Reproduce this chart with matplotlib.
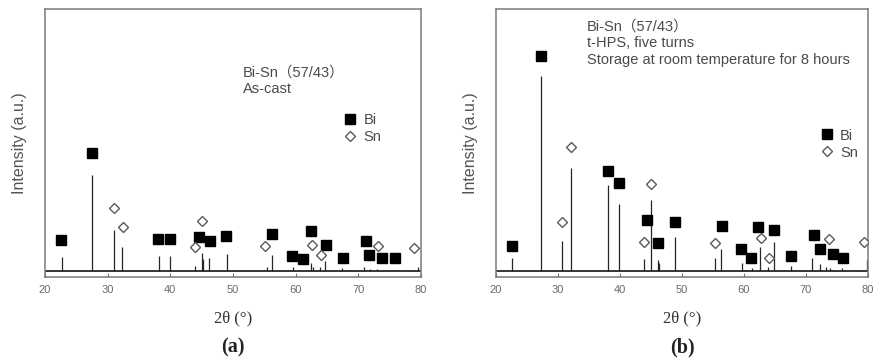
import matplotlib
matplotlib.use("Agg")
import matplotlib.pyplot as plt
from matplotlib.lines import Line2D

# ---- data (2theta in degrees, intensity in arbitrary units) ----
# (a) as-cast
a_peak_pos = [22.7, 27.5, 30.95, 32.3, 38.2, 40.0, 44.0, 45.0, 45.2, 46.2, 49.0,
              55.4, 56.3, 59.5, 62.4, 62.8, 63.9, 64.7, 67.4, 70.9, 71.9, 72.9, 79.6]
a_peak_int = [14, 96, 41, 24, 15, 15, 5, 18, 12, 13, 17,
              4, 16, 4, 8, 4, 4, 10, 3, 4, 2, 2, 4]
a_bi_pos = [22.6, 27.5, 38.1, 40.0, 44.6, 46.3, 48.9, 56.3, 59.4, 61.1, 62.4,
            64.9, 67.5, 71.2, 71.7, 73.8, 75.8]
a_bi_int = [31, 118, 32, 32, 34, 30, 35, 37, 15, 12, 40,
            26, 13, 30, 16, 13, 13]
a_sn_pos = [30.95, 32.4, 43.9, 45.1, 55.1, 62.6, 64.0, 73.1, 78.9]
a_sn_int = [63, 44, 24, 50, 25, 26, 16, 25, 23]

# (b) t-HPS, five turns, 8 h at room temperature
b_peak_pos = [22.5, 27.2, 30.6, 32.1, 38.05, 39.8, 43.9, 45.0, 46.1, 46.3, 48.9,
              55.3, 56.3, 59.6, 61.3, 62.5, 63.9, 64.8, 67.6, 71.0, 72.3, 73.2,
              73.9, 75.8, 79.8]
b_peak_int = [13, 195, 30, 103, 86, 67, 12, 71, 11, 8, 34,
              13, 22, 8, 3, 24, 4, 29, 5, 13, 7, 4,
              3, 3, 11]
b_bi_pos = [22.5, 27.3, 38.1, 39.8, 44.4, 46.2, 48.9, 56.4, 59.5, 61.2, 62.3,
            64.8, 67.6, 71.3, 72.3, 74.4, 75.9]
b_bi_int = [25, 215, 100, 88, 51, 28, 49, 45, 22, 13, 44,
            41, 15, 36, 22, 17, 13]
b_sn_pos = [30.6, 32.1, 43.8, 45.0, 55.4, 62.7, 64.0, 73.7, 79.4]
b_sn_int = [49, 124, 29, 87, 28, 33, 13, 32, 29]

x_ticks = [20, 30, 40, 50, 60, 70, 80]

TEXT_FONT = ["Liberation Sans", "Noto Sans CJK SC", "DejaVu Sans"]
SERIF = ["Liberation Serif", "DejaVu Serif"]
FRAME = "#7a7a7a"
TEXT_C = "#4a4a4a"
LINE_C = "#262626"


def draw_panel(ax, peak_pos, peak_int, bi_pos, bi_int, sn_pos, sn_int,
               lines, text_xy, leg_xy, tag):
    ax.set_xlim(20, 80)
    ax.set_ylim(-6, 262)
    ax.axhline(0, color=LINE_C, lw=1.3, zorder=1)
    ax.vlines(peak_pos, 0, peak_int, color=LINE_C, lw=0.9, zorder=1)

    ax.plot(bi_pos, bi_int, ls="none", marker="s", ms=7.2,
            mfc="black", mec="black", zorder=3)
    ax.plot(sn_pos, sn_int, ls="none", marker="D", ms=5.6,
            mfc="white", mec="#5a5a5a", mew=1.0, zorder=3)

    handles = [
        Line2D([0], [0], ls="none", marker="s", ms=6.5, mfc="black", mec="black"),
        Line2D([0], [0], ls="none", marker="D", ms=5.0, mfc="white",
               mec="#5a5a5a", mew=1.0),
    ]
    leg = ax.legend(handles, ["Bi", "Sn"], loc="upper left",
                    bbox_to_anchor=leg_xy, frameon=False, borderpad=0,
                    handlelength=1.0, handletextpad=0.4, labelspacing=0.2,
                    prop={"family": TEXT_FONT, "size": 10.5})
    for t in leg.get_texts():
        t.set_color(TEXT_C)

    ax.text(text_xy[0], text_xy[1], "\n".join(lines), transform=ax.transAxes,
            ha="left", va="top", family=TEXT_FONT, fontsize=10.5,
            color=TEXT_C, linespacing=1.25)

    ax.set_xticks(x_ticks)
    ax.set_xticklabels([str(t) for t in x_ticks])
    ax.set_yticks([])
    ax.tick_params(axis="x", direction="in", length=3, width=0.8,
                   color=FRAME, labelsize=8, labelcolor="#6a6a6a", pad=6)
    for lab in ax.get_xticklabels():
        lab.set_family(TEXT_FONT)
    for sp in ax.spines.values():
        sp.set_color(FRAME)
        sp.set_linewidth(1.1)

    ax.set_ylabel("Intensity (a.u.)", family=TEXT_FONT, fontsize=11.5,
                  color="#555555", labelpad=13)
    ax.set_xlabel("2θ (°)", family=SERIF, fontsize=12, color="#333333",
                  labelpad=11)
    ax.text(0.5, -0.262, tag, transform=ax.transAxes, ha="center", va="center",
            family=SERIF, fontsize=14.5, fontweight="bold", color="#222222")


def main():
    fig = plt.figure(figsize=(8.73, 3.61), dpi=100)
    ax_a = fig.add_axes([45 / 873, 84 / 361, 376 / 873, 268 / 361])
    ax_b = fig.add_axes([496 / 873, 84 / 361, 372 / 873, 268 / 361])

    draw_panel(ax_a, a_peak_pos, a_peak_int, a_bi_pos, a_bi_int,
               a_sn_pos, a_sn_int,
               ["Bi-Sn（57/43）", "As-cast"], (0.526, 0.79),
               (0.773, 0.64), "(a)")
    draw_panel(ax_b, b_peak_pos, b_peak_int, b_bi_pos, b_bi_int,
               b_sn_pos, b_sn_int,
               ["Bi-Sn（57/43）", "t-HPS, five turns",
                "Storage at room temperature for 8 hours"], (0.245, 0.962),
               (0.850, 0.581), "(b)")

    fig.savefig("out.png", dpi=100)


if __name__ == "__main__":
    main()
